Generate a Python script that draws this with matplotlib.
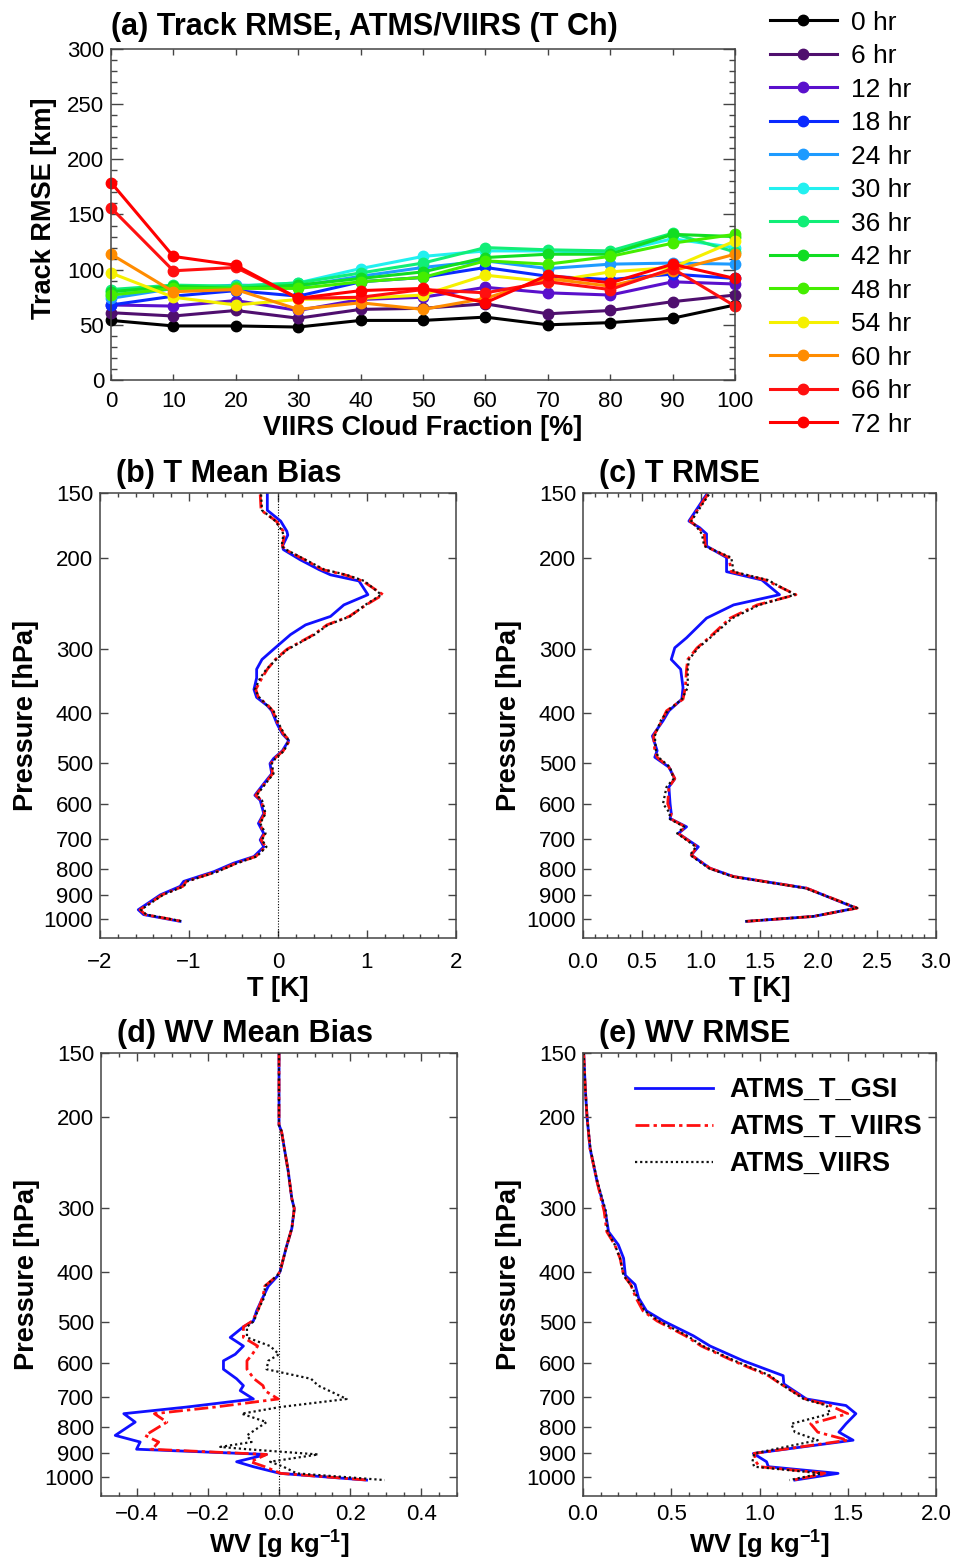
import numpy as np
import matplotlib.pyplot as plt
from matplotlib.ticker import MultipleLocator, NullLocator

plt.rcParams['font.family'] = ['Liberation Sans', 'DejaVu Sans']
plt.rcParams['mathtext.fontset'] = 'custom'
plt.rcParams['mathtext.rm'] = 'Liberation Sans'
plt.rcParams['mathtext.bf'] = 'Liberation Sans:bold'

# ---- (a) track RMSE vs VIIRS cloud fraction ----
cloud_frac = [0, 10, 20, 30, 40, 50, 60, 70, 80, 90, 100]
hours = ['0 hr', '6 hr', '12 hr', '18 hr', '24 hr', '30 hr', '36 hr',
         '42 hr', '48 hr', '54 hr', '60 hr', '66 hr', '72 hr']
hour_colors = ['#000000', '#4f0f6e', '#5a10cc', '#0a2aff', '#1e9bff', '#22f0f0',
               '#11ee77', '#11dd22', '#44ee00', '#f5f000', '#ff8c00', '#ff1010', '#ff0000']
rmse_00 = [54, 49, 49, 48, 54, 54, 57, 50, 52, 56, 68]
rmse_06 = [61, 58, 63, 56, 64, 65, 69, 60, 63, 71, 77]
rmse_12 = [68, 67, 72, 63, 73, 75, 84, 79, 77, 89, 87]
rmse_18 = [68, 76, 81, 76, 89, 93, 102, 94, 91, 96, 92]
rmse_24 = [74, 83, 86, 85, 94, 102, 108, 101, 105, 106, 105]
rmse_30 = [77, 85, 85, 88, 101, 112, 117, 117, 115, 128, 120]
rmse_36 = [82, 86, 85, 88, 97, 106, 120, 118, 117, 133, 116]
rmse_42 = [80, 85, 83, 86, 92, 98, 111, 114, 114, 132, 130]
rmse_48 = [77, 83, 83, 83, 89, 93, 108, 105, 112, 124, 132]
rmse_54 = [97, 75, 68, 73, 74, 77, 95, 89, 98, 102, 126]
rmse_60 = [114, 80, 82, 64, 70, 64, 74, 92, 85, 99, 114]
rmse_66 = [156, 99, 102, 74, 75, 82, 79, 89, 82, 101, 67]
rmse_72 = [179, 112, 104, 74, 81, 83, 70, 95, 88, 105, 92]
track_rmse = [rmse_00, rmse_06, rmse_12, rmse_18, rmse_24, rmse_30, rmse_36,
              rmse_42, rmse_48, rmse_54, rmse_60, rmse_66, rmse_72]

# ---- (b) T mean bias ----
p_tb = [151, 162, 170, 178, 181, 190, 193, 202, 211, 216, 222, 236, 247, 260, 270, 282,
        301, 315, 329, 342, 360, 373, 387, 396, 420, 439, 452, 473, 490, 501, 524, 548,
        577, 590, 626, 654, 684, 704, 726, 758, 781, 811, 847, 866, 899, 961, 982, 1012]
tb_gsi = [-0.12, -0.12, 0.03, 0.10, 0.11, 0.05, 0.06, 0.25, 0.46, 0.59, 0.91, 1.01, 0.74, 0.59,
          0.31, 0.14, -0.05, -0.18, -0.24, -0.24, -0.27, -0.24, -0.12, -0.07, -0.01, 0.05,
          0.12, 0.05, -0.05, -0.09, -0.07, -0.16, -0.26, -0.20, -0.16, -0.22, -0.16, -0.20,
          -0.16, -0.27, -0.50, -0.72, -1.06, -1.10, -1.32, -1.57, -1.51, -1.10]
tb_tviirs = [-0.20, -0.19, -0.02, 0.06, 0.07, 0.05, 0.08, 0.30, 0.50, 0.75, 0.95, 1.18, 0.99,
             0.80, 0.55, 0.40, 0.10, -0.03, -0.12, -0.18, -0.25, -0.22, -0.11, -0.06, 0.00,
             0.06, 0.13, 0.06, -0.04, -0.08, -0.06, -0.15, -0.25, -0.19, -0.15, -0.21, -0.15,
             -0.19, -0.14, -0.25, -0.47, -0.69, -1.03, -1.07, -1.30, -1.55, -1.49, -1.08]
tb_viirs = [-0.19, -0.18, -0.03, 0.05, 0.06, 0.04, 0.09, 0.31, 0.52, 0.77, 0.97, 1.16, 0.98,
            0.81, 0.56, 0.41, 0.11, -0.02, -0.13, -0.20, -0.26, -0.21, -0.12, -0.05, 0.01,
            0.07, 0.12, 0.07, -0.03, -0.07, -0.05, -0.14, -0.24, -0.18, -0.14, -0.20, -0.14,
            -0.18, -0.13, -0.24, -0.46, -0.68, -1.02, -1.06, -1.29, -1.54, -1.48, -1.07]

# ---- (c) T RMSE ----
p_tr = [151, 170, 175, 180, 190, 200, 213, 221, 236, 247, 262, 286, 299, 315, 329, 357, 376,
        396, 414, 443, 473, 487, 509, 536, 556, 599, 626, 640, 664, 684, 726, 753, 799, 829,
        873, 954, 990, 1012]
tr_gsi = [1.05, 0.90, 0.99, 1.05, 1.05, 1.22, 1.22, 1.52, 1.67, 1.28, 1.05, 0.88, 0.78, 0.75,
          0.83, 0.85, 0.84, 0.73, 0.68, 0.59, 0.63, 0.61, 0.73, 0.78, 0.73, 0.74, 0.75, 0.74,
          0.88, 0.81, 0.98, 0.92, 1.08, 1.28, 1.90, 2.32, 1.96, 1.39]
tr_tviirs = [1.06, 0.91, 0.98, 1.03, 1.04, 1.24, 1.26, 1.55, 1.81, 1.48, 1.25, 1.07, 0.97,
             0.89, 0.88, 0.87, 0.85, 0.71, 0.67, 0.60, 0.61, 0.63, 0.73, 0.78, 0.73, 0.72,
             0.75, 0.74, 0.87, 0.81, 0.97, 0.92, 1.08, 1.28, 1.90, 2.33, 1.96, 1.39]
tr_viirs = [1.07, 0.92, 0.97, 1.01, 1.03, 1.26, 1.28, 1.57, 1.80, 1.50, 1.27, 1.08, 0.98,
            0.90, 0.89, 0.89, 0.84, 0.72, 0.66, 0.61, 0.62, 0.64, 0.74, 0.77, 0.71, 0.68,
            0.74, 0.73, 0.86, 0.80, 0.96, 0.91, 1.07, 1.27, 1.89, 2.33, 1.95, 1.38]

# ---- (d) WV mean bias ----
p_wb = [150, 207, 213, 255, 288, 301, 329, 359, 399, 407, 426, 446, 476, 498, 511, 536, 557,
        578, 595, 618, 645, 665, 680, 706, 732, 754, 783, 831, 856, 875, 884, 905, 935, 956,
        985, 1015]
wb_gsi = [0.0, 0.0, 0.007, 0.026, 0.036, 0.043, 0.036, 0.02, 0.003, -0.004, -0.03, -0.044,
          -0.063, -0.072, -0.10, -0.137, -0.10, -0.123, -0.156, -0.156, -0.119, -0.10, -0.109,
          -0.072, -0.26, -0.436, -0.404, -0.46, -0.39, -0.397, -0.40, -0.035, -0.119, -0.072,
          0.003, 0.246]
wb_tviirs = [0.0, 0.0, 0.007, 0.026, 0.036, 0.043, 0.036, 0.02, 0.003, -0.006, -0.04, -0.045,
             -0.06, -0.075, -0.10, -0.10, -0.06, -0.075, -0.09, -0.09, -0.07, -0.045, -0.04,
             -0.002, -0.18, -0.35, -0.315, -0.376, -0.338, -0.35, -0.36, -0.035, -0.08, -0.04,
             0.005, 0.25]
wb_viirs = [0.0, 0.0, 0.007, 0.026, 0.036, 0.043, 0.036, 0.02, 0.003, -0.006, -0.04, -0.04,
            -0.06, -0.07, -0.09, -0.09, -0.025, 0.0, -0.03, -0.035, 0.09, 0.11, 0.14, 0.19,
            0.003, -0.105, -0.035, -0.09, -0.077, -0.165, -0.09, 0.11, -0.025, 0.012, 0.05,
            0.297]

# ---- (e) WV RMSE ----
p_wr = [150, 176, 200, 230, 267, 305, 334, 354, 376, 406, 423, 449, 476, 498, 532, 557, 595,
        636, 660, 706, 727, 754, 789, 819, 849, 901, 935, 956, 985, 1015]
wr_gsi = [0.004, 0.013, 0.023, 0.04, 0.08, 0.126, 0.145, 0.20, 0.23, 0.24, 0.295, 0.315,
          0.36, 0.456, 0.625, 0.72, 0.908, 1.134, 1.138, 1.266, 1.49, 1.546, 1.49, 1.45,
          1.53, 0.965, 1.04, 1.05, 1.445, 1.20]
wr_tviirs = [0.004, 0.013, 0.023, 0.04, 0.08, 0.12, 0.135, 0.18, 0.21, 0.23, 0.27, 0.30,
             0.34, 0.42, 0.58, 0.67, 0.85, 1.05, 1.12, 1.26, 1.40, 1.50, 1.29, 1.33, 1.50,
             0.97, 0.98, 1.00, 1.38, 1.19]
wr_viirs = [0.004, 0.013, 0.023, 0.042, 0.082, 0.13, 0.14, 0.18, 0.21, 0.23, 0.27, 0.31,
            0.35, 0.43, 0.59, 0.68, 0.86, 1.06, 1.12, 1.25, 1.38, 1.40, 1.18, 1.20, 1.33,
            0.97, 0.96, 0.97, 1.35, 1.17]

p_ticks = [150, 200, 300, 400, 500, 600, 700, 800, 900, 1000]
exp_names = ['ATMS_T_GSI', 'ATMS_T_VIIRS', 'ATMS_VIIRS']

W, H = 957, 1564
fig = plt.figure(figsize=(W / 100, H / 100), dpi=100)

TITLE_FS = 22
LABEL_FS = 19.5
TICK_FS = 16


def box(l, t, r, b):
    return [l / W, 1 - b / H, (r - l) / W, (b - t) / H]


def style_axes(ax):
    for s in ax.spines.values():
        s.set_color('#444444')
        s.set_linewidth(1.1)
    ax.tick_params(which='both', direction='in', top=True, right=True,
                   color='#444444', labelsize=TICK_FS)


# panel (a)
ax = fig.add_axes(box(111, 49, 735, 380))
for vals, col, lab in zip(track_rmse, hour_colors, hours):
    ax.plot(cloud_frac, vals, '-o', color=col, lw=2.2, ms=7.5, label=lab, clip_on=False)
ax.set_xlim(0, 100)
ax.set_ylim(0, 300)
ax.xaxis.set_major_locator(MultipleLocator(10))
ax.yaxis.set_major_locator(MultipleLocator(50))
ax.yaxis.set_minor_locator(MultipleLocator(10))
style_axes(ax)
ax.tick_params(axis='x', which='major', length=4.5, width=1, pad=8)
ax.tick_params(axis='y', which='major', length=8.5, width=1, pad=5)
ax.tick_params(axis='y', which='minor', length=4.5, width=1)
ax.set_xlabel('VIIRS Cloud Fraction [%]', fontsize=LABEL_FS, fontweight='bold', labelpad=2)
ax.set_ylabel('Track RMSE [km]', fontsize=LABEL_FS, fontweight='bold')
ax.yaxis.set_label_coords(-0.087, 0.52)
ax.set_title('(a) Track RMSE, ATMS/VIIRS (T Ch)', loc='left', fontsize=TITLE_FS,
             fontweight='bold', pad=10)
fig.legend(*ax.get_legend_handles_labels(), loc='upper left',
           bbox_to_anchor=(759 / W, 1 - 0 / H), frameon=False, fontsize=19,
           handlelength=2.55, handletextpad=0.55, labelspacing=0.36, borderaxespad=0)


def profile(box_px, p, gsi, tviirs, viirs, xlim, xticks, xlabels, minor, title,
            xlabel, zero=False, legend=False, bottom_row=False):
    ax = fig.add_axes(box(*box_px))
    if zero:
        ax.axvline(0, color='black', lw=0.8, ls=(0, (1, 1.5)))
    ax.plot(gsi, p, color='#1010ff', lw=2.0, ls='-', label=exp_names[0])
    ax.plot(tviirs, p, color='#ff1010', lw=2.0, ls=(0, (5, 1.5, 1.2, 1.5)), label=exp_names[1])
    ax.plot(viirs, p, color='#111111', lw=1.6, ls=(0, (1, 1.3)), label=exp_names[2])
    ax.set_yscale('log')
    ax.set_ylim(1090, 150)
    ax.set_yticks(p_ticks)
    ax.set_yticklabels([str(v) for v in p_ticks])
    ax.yaxis.set_minor_locator(NullLocator())
    ax.set_xlim(*xlim)
    ax.set_xticks(xticks)
    ax.set_xticklabels(xlabels)
    ax.xaxis.set_minor_locator(MultipleLocator(minor))
    style_axes(ax)
    ax.tick_params(axis='x', which='major', length=6, width=1, pad=6 if bottom_row else 10)
    ax.tick_params(axis='x', which='minor', length=2.8, width=1)
    ax.tick_params(axis='y', which='major', length=6, width=1, pad=5)
    if bottom_row:
        ax.set_xlabel(xlabel, fontsize=18.5, fontweight='bold')
        ax.xaxis.set_label_coords(0.5, -(1527 - box_px[3]) / (box_px[3] - box_px[1]))
    else:
        ax.set_xlabel(xlabel, fontsize=LABEL_FS, fontweight='bold', labelpad=2)
    ax.set_ylabel('Pressure [hPa]', fontsize=LABEL_FS, fontweight='bold', labelpad=3)
    ax.set_title(title, loc='left', x=0.045, fontsize=TITLE_FS, fontweight='bold', pad=8)
    if legend:
        ax.legend(loc='upper right', bbox_to_anchor=(1.03, 1.0), frameon=False,
                  handlelength=2.9, handletextpad=0.6, labelspacing=0.4,
                  prop={'size': 19.5, 'weight': 'bold'})
    return ax


profile((100, 493, 456, 938), p_tb, tb_gsi, tb_tviirs, tb_viirs, (-2, 2),
        [-2, -1, 0, 1, 2], ['\u22122', '\u22121', '0', '1', '2'], 0.2,
        '(b) T Mean Bias', 'T [K]', zero=True)
profile((583, 493, 936, 938), p_tr, tr_gsi, tr_tviirs, tr_viirs, (0, 3),
        [0, 0.5, 1, 1.5, 2, 2.5, 3], ['0.0', '0.5', '1.0', '1.5', '2.0', '2.5', '3.0'], 0.1,
        '(c) T RMSE', 'T [K]')
profile((101, 1053, 457, 1496), p_wb, wb_gsi, wb_tviirs, wb_viirs, (-0.5, 0.5),
        [-0.4, -0.2, 0, 0.2, 0.4], ['\u22120.4', '\u22120.2', '0.0', '0.2', '0.4'], 0.05,
        '(d) WV Mean Bias', r'WV [g kg$^{\mathbf{-1}}$]', zero=True, bottom_row=True)
profile((583, 1053, 936, 1496), p_wr, wr_gsi, wr_tviirs, wr_viirs, (0, 2),
        [0, 0.5, 1, 1.5, 2], ['0.0', '0.5', '1.0', '1.5', '2.0'], 0.1,
        '(e) WV RMSE', r'WV [g kg$^{\mathbf{-1}}$]', legend=True, bottom_row=True)

fig.savefig('out.png', dpi=100)
